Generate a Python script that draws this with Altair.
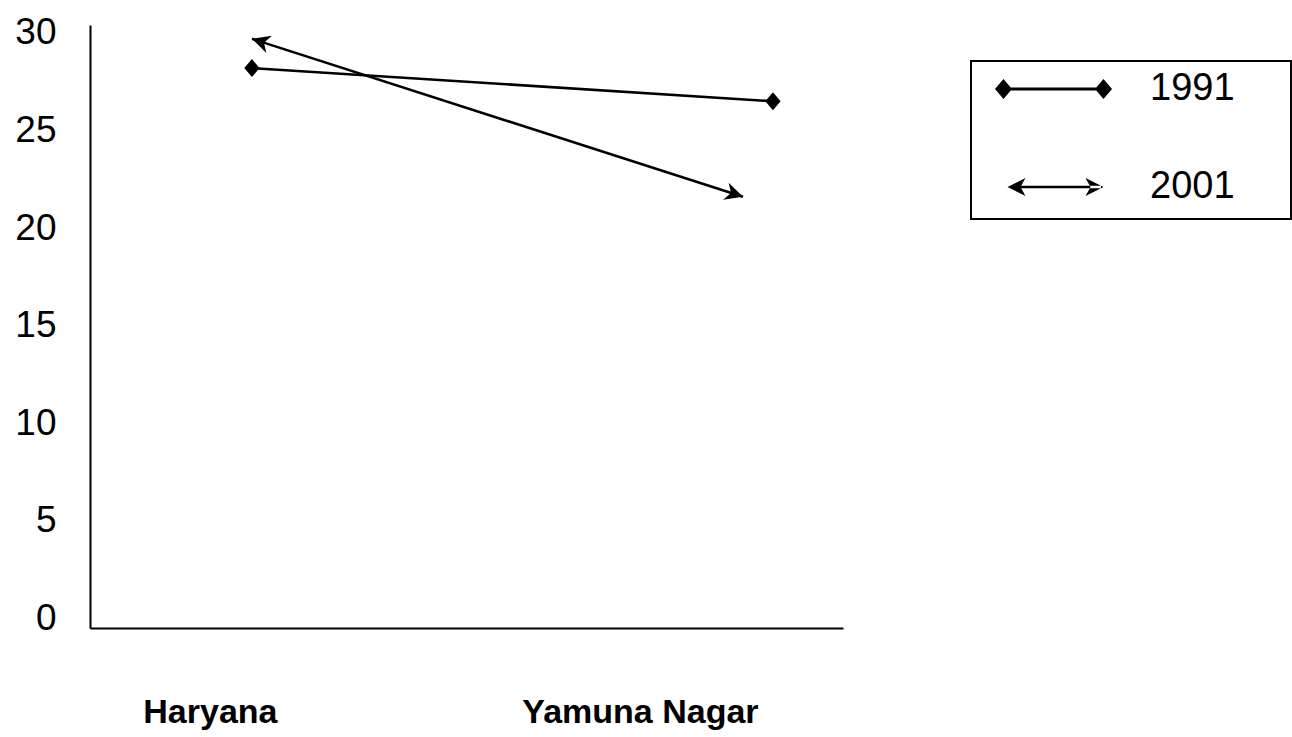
import altair as alt
import pandas as pd

# Share values (%) for the two regions in the two census years
regions = ["Haryana", "Yamuna Nagar"]
years = ["1991", "2001"]
share_1991 = [28.2, 26.5]
share_2001 = [29.7, 21.6]
y_ticks = [0, 5, 10, 15, 20, 25, 30]

df = pd.DataFrame({
    "region": regions * 2,
    "year": [years[0]] * len(regions) + [years[1]] * len(regions),
    "value": share_1991 + share_2001,
})

FONT = "Liberation Sans"
INK = "black"

# marker shapes (unit-square SVG paths)
DIAMOND = "M-0.85,0L0,-1L0.85,0L0,1Z"
ARROW = "M0,0L-1,-0.5L-0.7,0L-1,0.5Z"
KEY_1991 = ("M-0.62,-0.028L1.38,-0.028L1.38,0.028L-0.62,0.028Z"
            "M-0.79,0L-0.62,-0.2L-0.45,0L-0.62,0.2Z"
            "M1.21,0L1.38,-0.2L1.55,0L1.38,0.2Z")
KEY_2001 = ("M-0.5,-0.024L1.33,-0.024L1.33,0.024L-0.5,0.024Z"
            "M-0.54,0L-0.18,-0.18L-0.28,0L-0.18,0.18Z"
            "M1.38,0L1.02,-0.18L1.12,0L1.02,0.18Z")

y_enc = alt.Y(
    "value:Q",
    scale=alt.Scale(domain=[-0.51, 30.41], nice=False, zero=False),
    axis=alt.Axis(values=y_ticks, title=None, grid=False, ticks=False,
                  domainColor=INK, domainWidth=2, labelFont=FONT,
                  labelFontSize=37, labelColor=INK, labelPadding=34),
)

x_1991 = alt.X(
    "region:N", sort=regions,
    scale=alt.Scale(type="point", domain=regions, padding=0.2226, align=0.698),
    axis=alt.Axis(title=None, grid=False, ticks=False, domainColor=INK,
                  domainWidth=2, labelFont=FONT, labelFontSize=34,
                  labelFontWeight="bold", labelColor=INK, labelAngle=0,
                  labelPadding=67, labelBaseline="top", labelLimit=500,
                  labelOverlap=False,
                  labelOffset={"condition": {"test": "datum.value === 'Haryana'", "value": -42},
                               "value": -133}),
)
x_2001 = alt.X(
    "region:N", sort=regions,
    scale=alt.Scale(type="point", domain=regions, padding=0.2668, align=0.6183),
    axis=None,
)

base_1991 = alt.Chart(df).transform_filter(alt.datum.year == "1991")
line_1991 = base_1991.mark_line(color=INK, strokeWidth=2.6).encode(x=x_1991, y=y_enc)
pts_1991 = base_1991.mark_point(shape=DIAMOND, filled=True, color=INK, size=324, opacity=1).encode(
    x=x_1991, y=y_enc)

base_2001 = alt.Chart(df).transform_filter(alt.datum.year == "2001")
line_2001 = base_2001.mark_line(color=INK, strokeWidth=2.6).encode(x=x_2001, y=y_enc)
heads_2001 = base_2001.mark_point(shape=ARROW, filled=True, color=INK, size=1296, opacity=1).encode(
    x=x_2001, y=y_enc,
    angle=alt.condition(alt.datum.region == "Haryana", alt.value(198), alt.value(18)),
)

# legend carrier: draws nothing, only feeds the shape legend
key = alt.Chart(df).transform_filter("false").mark_point(
    filled=True, fill=INK, stroke=INK, strokeWidth=1, opacity=1
).encode(
    shape=alt.Shape(
        "year:N",
        scale=alt.Scale(domain=years, range=[KEY_1991, KEY_2001]),
        legend=alt.Legend(
            title="Year", titleOrient="right", titleOpacity=0, titleFontSize=12,
            titlePadding=17,
            orient="none", legendX=881, legendY=36,
            padding=13, rowPadding=60, clipHeight=30, symbolSize=10000,
            symbolFillColor=INK, symbolStrokeColor=INK, symbolStrokeWidth=1,
            labelFont=FONT, labelFontSize=38, labelColor=INK, labelOffset=65,
            strokeColor=INK, fillColor="white",
        ),
    )
)

chart = alt.layer(
    alt.layer(line_1991, pts_1991),
    alt.layer(line_2001, heads_2001),
    key,
).resolve_scale(x="independent").properties(
    width=753, height=603,
    padding={"left": 90, "top": 25, "right": 449, "bottom": 109},
    autosize=alt.AutoSizeParams(type="none"),
    background="white",
).configure_view(stroke=None).configure_legend(strokeWidth=2)

chart.save("out.html", embed_options={"renderer": "svg", "actions": False})
